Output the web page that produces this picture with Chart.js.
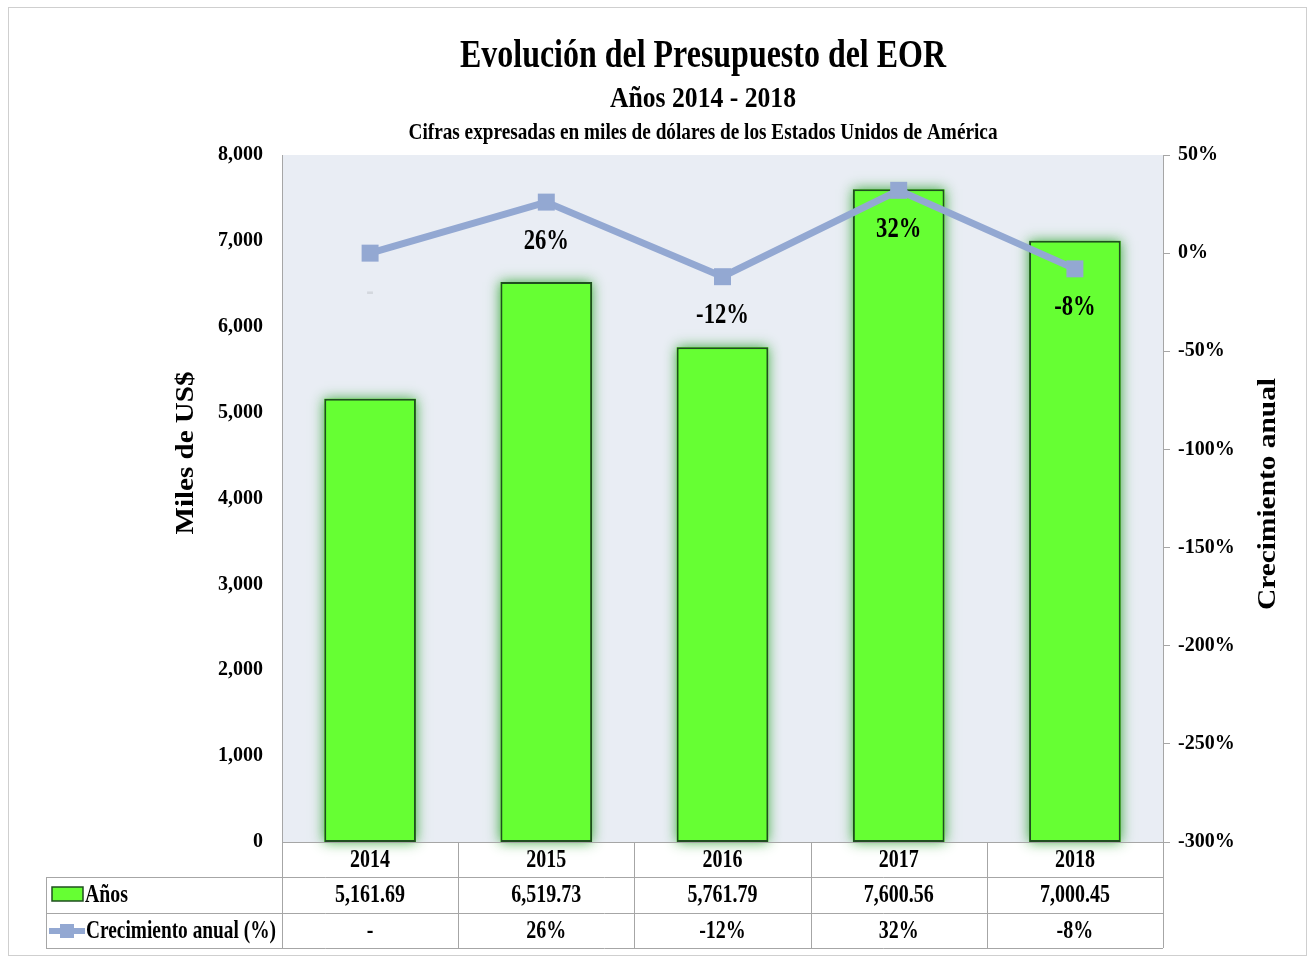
<!DOCTYPE html>
<html>
<head>
<meta charset="utf-8">
<script src="https://cdn.jsdelivr.net/npm/chart.js@4.4.1/dist/chart.umd.min.js"></script>
<style>
  body { margin: 0; background: #fff; }
  canvas { display: block; }
</style>
</head>
<body>
<canvas id="eorChart" width="1309" height="960"></canvas>
<script>
// datos del gráfico
const years = ['2014', '2015', '2016', '2017', '2018'];
const budget = [5161.69, 6519.73, 5761.79, 7600.56, 7000.45];
const growth = [0, 26, -12, 32, -8];
const growthText = ['-', '26%', '-12%', '32%', '-8%'];

const FONT = '"Liberation Serif", "Times New Roman", serif';
const BAR_GREEN = '#66ff33';
const BAR_EDGE = '#1f4f1f';
const LINE_BLUE = '#93a8d2';
const GRID_GREY = '#a6a6a6';

// texto en negrita, estrechado horizontalmente (w = ancho deseado, o factor sx)
function drawText(ctx, txt, x, y, size, opt) {
    opt = opt || {};
    ctx.save();
    ctx.font = 'bold ' + size + 'px ' + FONT;
    let sx = opt.sx || 0.82;
    if (opt.w) sx = opt.w / ctx.measureText(txt).width;
    ctx.translate(x, y);
    if (opt.rotate) ctx.rotate(opt.rotate);
    ctx.scale(sx, 1);
    ctx.fillStyle = opt.color || '#000';
    ctx.textAlign = opt.align || 'center';
    ctx.textBaseline = opt.baseline || 'alphabetic';
    ctx.fillText(txt, 0, 0);
    ctx.restore();
}

const decorPlugin = {
    id: 'decor',
    beforeDraw(chart) {
        const { ctx, chartArea: a } = chart;
        ctx.save();
        // marco exterior
        ctx.strokeStyle = '#cfcfcf';
        ctx.lineWidth = 1;
        ctx.strokeRect(8.5, 7.5, 1298, 948);
        // fondo del área de trazado
        ctx.fillStyle = '#e9edf4';
        ctx.fillRect(a.left, a.top, a.right - a.left, a.bottom - a.top);
        ctx.restore();

        // títulos
        drawText(ctx, 'Evolución del Presupuesto del EOR', 703, 67, 40, { w: 486 });
        drawText(ctx, 'Años 2014 - 2018', 703, 107, 29, { w: 186 });
        drawText(ctx, 'Cifras expresadas en miles de dólares de los Estados Unidos de América', 703, 139, 23, { w: 589 });

        // títulos de ejes
        drawText(ctx, 'Miles de US$', 186, 453, 26, { w: 163, rotate: -Math.PI / 2, baseline: 'middle' });
        drawText(ctx, 'Crecimiento anual', 1268, 494, 26, { w: 232, rotate: -Math.PI / 2, baseline: 'middle' });
    },
    beforeDatasetDraw(chart, args) {
        if (chart.data.datasets[args.index].type !== 'bar') return;
        // halo verde alrededor de cada barra
        const ctx = chart.ctx;
        ctx.save();
        ctx.shadowColor = 'rgba(30, 160, 30, 0.85)';
        ctx.shadowBlur = 12;
        ctx.fillStyle = BAR_GREEN;
        args.meta.data.forEach(bar => {
            const p = bar.getProps(['x', 'y', 'base', 'width'], true);
            ctx.fillRect(p.x - p.width / 2, p.y, p.width, p.base - p.y);
        });
        ctx.restore();
    },
    afterDatasetsDraw(chart) {
        const ctx = chart.ctx;
        // etiquetas de crecimiento debajo de cada punto
        const meta = chart.getDatasetMeta(0);
        meta.data.forEach((pt, i) => {
            const color = i === 0 ? '#d4d8de' : '#000';
            drawText(ctx, growthText[i], pt.x, pt.y + 39, 29, { sx: 0.78, baseline: 'middle', color: color });
        });
    },
    afterDraw(chart) {
        const { ctx, chartArea: a, scales } = chart;
        const xs = scales.x;
        const step = (xs.right - xs.left) / years.length;
        const rows = [a.bottom, a.bottom + 35, a.bottom + 71, a.bottom + 106];
        const tableLeft = 46;

        ctx.save();
        ctx.strokeStyle = GRID_GREY;
        ctx.lineWidth = 1;
        ctx.beginPath();
        // eje x
        ctx.moveTo(a.left, rows[0] + 0.5);
        ctx.lineTo(a.right + 7, rows[0] + 0.5);
        for (let r = 1; r < rows.length; r++) {
            ctx.moveTo(tableLeft, rows[r] + 0.5);
            ctx.lineTo(a.right, rows[r] + 0.5);
        }
        for (let i = 0; i <= years.length; i++) {
            const x = Math.round(xs.left + i * step) + 0.5;
            ctx.moveTo(x, rows[0]);
            ctx.lineTo(x, rows[3]);
        }
        ctx.moveTo(tableLeft + 0.5, rows[1]);
        ctx.lineTo(tableLeft + 0.5, rows[3]);
        ctx.stroke();

        // leyenda dentro de la tabla
        ctx.fillStyle = BAR_GREEN;
        ctx.fillRect(52, 887, 31, 14);
        ctx.strokeStyle = BAR_EDGE;
        ctx.lineWidth = 1.5;
        ctx.strokeRect(52, 887, 31, 14);
        ctx.strokeStyle = LINE_BLUE;
        ctx.lineWidth = 6;
        ctx.beginPath();
        ctx.moveTo(49, 931);
        ctx.lineTo(85, 931);
        ctx.stroke();
        ctx.fillStyle = LINE_BLUE;
        ctx.fillRect(60, 924, 14, 14);
        ctx.restore();

        drawText(ctx, 'Años', 85, 896, 25, { w: 43, align: 'left', baseline: 'middle' });
        drawText(ctx, 'Crecimiento anual (%)', 86, 932, 25, { w: 190, align: 'left', baseline: 'middle' });

        years.forEach((y, i) => {
            const cx = xs.getPixelForValue(i);
            drawText(ctx, y, cx, (rows[0] + rows[1]) / 2 + 1, 25, { sx: 0.8, baseline: 'middle' });
            const val = budget[i].toLocaleString('en-US', { minimumFractionDigits: 2, maximumFractionDigits: 2 });
            drawText(ctx, val, cx, (rows[1] + rows[2]) / 2 + 1, 25, { sx: 0.8, baseline: 'middle' });
            drawText(ctx, growthText[i], cx, (rows[2] + rows[3]) / 2 + 1, 25, { sx: 0.8, baseline: 'middle' });
        });
    }
};

const ctx = document.getElementById('eorChart').getContext('2d');
const eorChart = new Chart(ctx, {
    data: {
        labels: years,
        datasets: [{
            type: 'line',
            label: 'Crecimiento anual (%)',
            data: growth,
            yAxisID: 'y1',
            borderColor: LINE_BLUE,
            backgroundColor: LINE_BLUE,
            borderWidth: 7,
            pointStyle: 'rect',
            pointRadius: 12,
            pointBorderWidth: 0,
            pointBackgroundColor: LINE_BLUE,
            tension: 0,
            order: 0
        }, {
            type: 'bar',
            label: 'Años',
            data: budget,
            yAxisID: 'y',
            backgroundColor: BAR_GREEN,
            borderColor: BAR_EDGE,
            borderWidth: 2,
            borderSkipped: false,
            barPercentage: 0.52,
            categoryPercentage: 1,
            order: 1
        }]
    },
    options: {
        responsive: false,
        devicePixelRatio: 1,
        animation: false,
        layout: { padding: { left: 0, right: 0, top: 155, bottom: 118 } },
        plugins: {
            legend: { display: false },
            tooltip: { enabled: false },
            title: { display: false }
        },
        scales: {
            x: {
                display: false,
                offset: true
            },
            y: {
                position: 'left',
                min: 0,
                max: 8000,
                afterFit(scale) { scale.width = 282; },
                grid: { display: false },
                border: { display: true, color: GRID_GREY, width: 1 },
                ticks: {
                    stepSize: 1000,
                    padding: 11,
                    color: '#000',
                    font: { family: FONT, size: 20, weight: 'bold' },
                    callback: v => v.toLocaleString('en-US')
                }
            },
            y1: {
                position: 'right',
                min: -300,
                max: 50,
                afterFit(scale) { scale.width = 146; },
                grid: {
                    drawOnChartArea: false,
                    drawTicks: true,
                    tickLength: 7,
                    color: GRID_GREY
                },
                border: { display: true, color: GRID_GREY, width: 1 },
                ticks: {
                    stepSize: 50,
                    padding: 8,
                    color: '#000',
                    font: { family: FONT, size: 20, weight: 'bold' },
                    callback: v => v + '%'
                }
            }
        }
    },
    plugins: [decorPlugin]
});
</script>
</body>
</html>
